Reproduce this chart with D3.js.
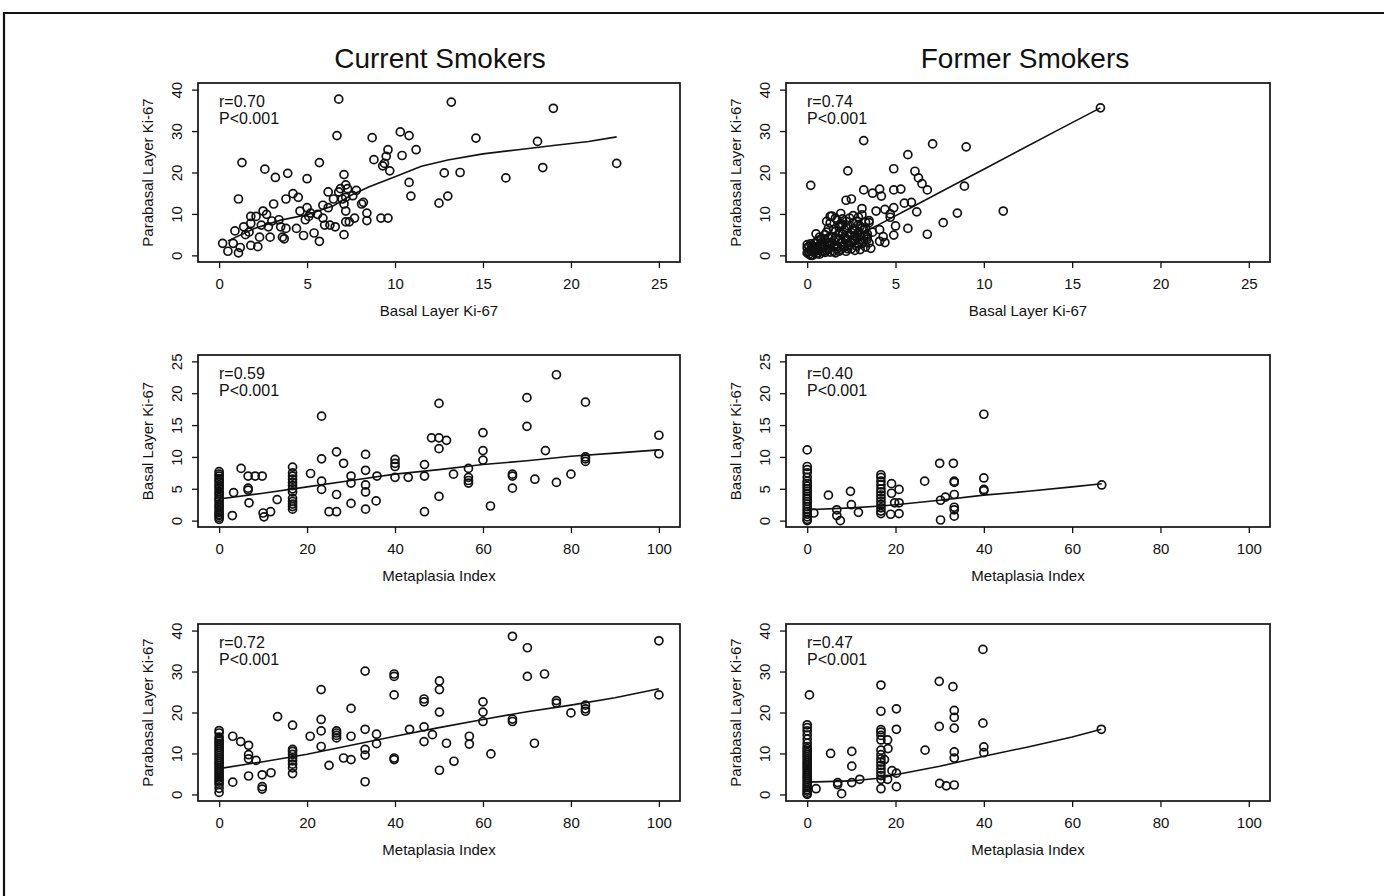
<!DOCTYPE html>
<html><head><meta charset="utf-8">
<script src="https://cdn.jsdelivr.net/npm/d3@7"></script>
<style>html,body{margin:0;padding:0;background:#fff;}svg{display:block;}</style>
</head><body>
<svg id="chart" width="1384" height="896"></svg>
<script>
// ---------- data ----------
const columnTitles = ["Current Smokers", "Former Smokers"];
const xAxisTitles = ["Basal Layer Ki-67", "Metaplasia Index", "Metaplasia Index"];
const yAxisTitles = ["Parabasal Layer Ki-67", "Basal Layer Ki-67", "Parabasal Layer Ki-67"];
const xTickValues = [[0,5,10,15,20,25],[0,20,40,60,80,100],[0,20,40,60,80,100]];
const yTickValues = [[0,10,20,30,40],[0,5,10,15,20,25],[0,10,20,30,40]];
const rLabels = [["r=0.70","r=0.74"],["r=0.59","r=0.40"],["r=0.72","r=0.47"]];
const pLabel = "P<0.001";

// Current smokers: basal (x) vs parabasal (y)
const curBasalPara = [[0.2,2.9],[0.5,1.0],[0.8,2.9],[0.9,5.9],[1.1,13.6],[1.2,1.9],[1.1,0.6],[1.3,22.4],[1.4,6.9],[1.5,5.0],
 [1.7,5.6],[1.8,9.4],[1.8,7.7],[1.8,2.4],[2.1,9.4],[2.2,2.1],[2.3,4.4],[2.4,7.3],[2.5,10.7],[2.6,20.8],
 [2.7,9.9],[2.8,6.9],[2.9,4.4],[3.0,8.3],[3.1,12.4],[3.2,18.8],[3.4,8.6],[3.5,6.9],[3.6,4.4],[3.7,4.0],
 [3.8,6.5],[3.8,13.6],[3.9,19.8],[4.2,14.9],[4.5,14.0],[4.4,6.5],[4.6,10.7],[4.8,4.8],[4.9,8.6],[5.0,18.5],
 [5.0,11.5],[5.1,9.4],[5.2,10.2],[5.4,5.4],[5.6,9.9],[5.7,3.4],[5.7,22.4],[5.9,9.0],[5.9,12.1],[6.0,7.3],
 [6.2,15.3],[6.2,11.5],[6.3,7.3],[6.5,13.6],[6.6,6.9],[6.7,28.9],[6.8,37.7],[6.8,15.3],[6.9,16.1],[7.0,13.6],
 [7.1,19.5],[7.2,17.0],[7.1,12.4],[7.2,10.7],[7.2,14.0],[7.2,8.1],[7.1,5.0],[7.3,16.1],[7.4,8.1],[7.6,14.4],
 [7.7,9.0],[7.8,15.7],[8.1,12.4],[8.2,12.8],[8.4,10.2],[8.4,8.4],[8.7,28.4],[8.8,23.1],[9.2,9.0],[9.3,21.6],
 [9.4,22.2],[9.5,23.9],[9.6,25.5],[9.6,9.0],[9.7,20.4],[10.3,29.8],[10.4,24.1],[10.8,28.9],[10.8,17.6],[10.9,14.3],
 [11.2,25.5],[12.5,12.6],[12.8,19.9],[13.0,14.3],[13.2,37.0],[13.7,20.0],[14.6,28.3],[16.3,18.7],[18.1,27.5],[18.4,21.2],
 [19.0,35.5],[22.6,22.2]];
const curBasalParaFit = [[0.5,3.5],[2,6.5],[3.5,8.5],[5,9.8],[6.5,12],[7.5,14.5],[8.5,16.5],[10,19],[11.5,21.5],[13,23],[15,24.5],[17,25.5],[19,26.5],[21,27.5],[22.6,28.6]];

// Former smokers: basal (x) vs parabasal (y)
const forBasalPara = [[16.6,35.6],[3.2,27.7],[7.1,26.9],[9.0,26.2],[5.7,24.3],[2.3,20.4],[4.9,20.9],[6.1,20.3],[6.3,18.7],[6.5,17.3],
 [6.8,15.8],[0.2,16.9],[8.9,16.7],[3.2,15.8],[3.7,15.0],[4.1,16.0],[4.2,14.3],[4.9,15.8],[5.3,16.0],[2.2,13.3],
 [2.5,13.6],[1.9,10.1],[3.1,11.3],[3.9,10.7],[4.4,11.1],[4.9,11.5],[5.5,12.6],[5.9,12.8],[6.2,10.5],[8.5,10.2],
 [7.7,7.9],[11.1,10.7],[5.7,6.5],[6.8,5.1],[4.9,4.9],[5.0,7.1],[3.7,5.6],[4.1,3.4],[4.4,3.1],[3.6,1.7],
 [4.3,4.5],[4.7,9.2],[4.7,10.0],[4.1,6.2],[1.3,9.4],[2.0,7.5],[3.5,7.9],[3.2,6.2],
 [0.1,0.3],[0.2,1.2],[0.3,2.2],[0.4,0.8],[0.5,1.5],[0.5,3.0],[0.6,0.5],[0.7,2.5],[0.8,1.0],[0.8,4.0],
 [0.9,2.0],[1.0,5.0],[1.0,0.7],[1.1,3.2],[1.2,1.5],[1.2,6.5],[1.3,2.5],[1.3,7.8],[1.4,4.5],[1.5,1.0],
 [1.5,3.5],[1.6,5.8],[1.6,0.6],[1.7,2.2],[1.7,8.5],[1.8,4.0],[1.8,6.8],[1.9,1.4],[1.9,3.0],[2.0,5.2],
 [2.0,8.8],[2.1,2.0],[2.1,6.2],[2.2,3.8],[2.2,1.0],[2.3,7.2],[2.3,4.6],[2.4,2.6],[2.4,9.0],[2.5,5.5],
 [2.5,1.6],[2.6,3.4],[2.6,7.8],[2.7,6.0],[2.7,1.2],[2.8,4.2],[2.8,8.2],[2.9,2.8],[2.9,5.6],[3.0,3.8],
 [3.0,7.0],[3.1,6.5],[3.2,4.8],[3.3,2.0],[3.3,8.0],[3.4,5.2],[3.5,3.0],[0.2,2.8],[0.3,0.0],[1.4,9.5],
 [0.6,3.6],[1.0,2.4],[1.2,4.2],[2.6,9.6],[3.5,8.4],[3.1,9.8],[0.0,1.8],[0.0,2.6],[0.1,0.9],[0.4,1.9],
 [0.7,0.3],[0.9,3.4],[1.1,1.2],[1.5,2.1],[1.8,1.0],[2.0,3.1],[2.3,2.3],[2.7,3.6],[3.0,1.4],[3.4,3.9],
 [0.0,0.6],[0.1,2.2],[0.2,0.0],[0.3,1.5],[0.4,2.9],[0.5,0.4],[0.6,1.9],[0.7,4.4],[0.8,2.8],[0.9,0.9],
 [1.0,3.9],[1.1,5.6],[1.2,2.9],[1.3,0.8],[1.4,3.0],[1.5,6.3],[1.6,4.2],[1.7,1.6],[1.8,5.4],[1.9,7.6],
 [2.0,2.2],[2.1,4.4],[2.2,6.7],[2.3,1.6],[2.4,5.0],[2.5,3.0],[2.6,6.4],[2.7,4.8],[2.8,2.2],[2.9,7.4],
 [3.0,5.0],[3.1,2.8],[3.2,3.4],[3.3,6.6],[3.4,4.4],[1.1,8.2],[1.6,9.0],[2.2,8.2],[2.9,9.2],[0.5,5.2]];
const forBasalParaFit = [[0.3,0.5],[1,1.5],[2,3.2],[3,5.2],[4,7.3],[6,11.8],[8,16.3],[10,20.8],[12,25.3],[14,29.8],[16.6,35.6]];

// Current smokers: metaplasia index (x) vs basal (y)
const curMetaBasal = [[0,0.2],[0,0.5],[0,0.8],[0,1.0],[0,1.3],[0,1.6],[0,2.0],[0,2.3],[0,2.6],[0,3.0],[0,3.3],[0,3.6],
 [0,4.0],[0,4.3],[0,4.6],[0,5.0],[0,5.3],[0,5.6],[0,6.0],[0,6.3],[0,6.6],[0,7.0],[0,7.3],[0,7.7],
 [3.0,0.8],[3.3,4.4],[5.0,8.2],[6.6,7.0],[6.6,5.1],[6.6,4.8],[6.8,2.8],[8.2,7.0],[9.8,7.0],[10,1.2],[10.2,0.6],
 [11.7,1.4],[13.2,3.3],[16.7,8.4],[16.7,7.5],[16.7,7.0],[16.7,6.5],[16.7,6.0],[16.7,5.5],[16.7,5.0],[16.7,4.5],
 [16.7,3.5],[16.7,3.0],[16.7,2.6],[16.7,2.2],[16.7,1.8],[20.8,7.4],[23.3,16.4],[23.3,9.7],[23.3,6.2],[23.3,4.9],
 [25,1.4],[26.7,1.4],[26.7,4.1],[26.7,10.8],[28.3,9.0],[30,7.0],[30,5.9],[30,2.7],[33.3,10.4],[33.3,7.9],
 [33.3,5.6],[33.3,4.5],[33.3,1.8],[35.7,3.1],[35.9,7.0],[40,9.6],[40,9.0],[40,8.5],[40,6.8],[43,6.8],
 [46.7,8.8],[46.7,7.0],[46.7,1.4],[48.3,13.0],[50,13.0],[51.7,12.6],[50,18.4],[50,11.3],[50,3.8],[53.3,7.3],
 [56.7,8.2],[56.7,6.8],[56.7,6.3],[56.7,5.9],[60,13.8],[60,11.0],[60,9.5],[61.7,2.3],[66.7,7.3],[66.7,7.0],
 [66.7,5.1],[70,19.3],[70,14.8],[71.8,6.5],[74.2,11.0],[76.7,22.9],[76.7,6.0],[80,7.3],[83.3,18.6],[83.3,10.0],
 [83.3,9.7],[83.3,9.3],[100,13.4],[100,10.5]];
const curMetaBasalFit = [[0,3.4],[10,4.3],[20,5.3],[30,6.3],[40,7.3],[50,8.0],[60,8.8],[70,9.4],[80,10.1],[90,10.6],[100,11.1]];

// Former smokers: metaplasia index (x) vs basal (y)
const forMetaBasal = [[0,11.1],[0,8.5],[0,8.0],[0,7.5],[0,6.8],[0,6.2],[0,5.8],[0,5.4],[0,5.0],[0,4.6],[0,4.2],[0,3.8],
 [0,3.4],[0,3.0],[0,2.6],[0,2.2],[0,1.8],[0,1.4],[0,1.0],[0,0.6],[0,0.2],[0,0.0],
 [1.5,1.2],[4.8,4.0],[6.7,1.7],[6.7,0.8],[7.5,0.0],[9.8,4.6],[10,2.5],[11.6,1.3],
 [16.7,7.2],[16.7,6.8],[16.7,6.2],[16.7,5.6],[16.7,5.0],[16.7,4.5],[16.7,4.0],[16.7,3.5],[16.7,3.0],[16.7,2.5],
 [16.7,2.0],[16.7,1.5],[16.7,1.1],[19.1,5.8],[19.1,4.3],[18.9,1.0],[19.8,2.8],[20.8,2.8],[20.8,4.9],[20.8,1.1],
 [26.6,6.2],[30,9.0],[30.2,3.2],[30.2,0.1],[31.3,3.7],[33.1,9.0],[33.3,6.2],[33.3,6.0],[33.3,4.1],[33.3,2.1],
 [33.3,1.7],[33.3,0.7],[40,16.7],[40,6.7],[40,4.9],[40,4.7],[66.7,5.6]];
const forMetaBasalFit = [[0,1.7],[10,2.0],[16.7,2.3],[20,2.5],[30,3.2],[40,4.0],[50,4.6],[60,5.3],[66.7,5.8]];

// Current smokers: metaplasia index (x) vs parabasal (y)
const curMetaPara = [[0,0.5],[0,1.5],[0,2.5],[0,3.0],[0,3.5],[0,4.0],[0,4.5],[0,5.0],[0,5.5],[0,6.0],[0,6.5],[0,7.0],
 [0,7.5],[0,8.0],[0,8.5],[0,9.0],[0,9.5],[0,10.0],[0,10.5],[0,11.0],[0,11.5],[0,12.0],[0,12.5],[0,13.0],
 [0,13.5],[0,14.0],[0,15.0],[0,15.6],
 [3.1,3.0],[3.1,14.2],[4.9,12.9],[6.7,12.0],[6.7,9.7],[6.7,8.7],[6.7,4.5],[8.4,8.3],[9.8,4.8],[9.8,1.9],
 [9.8,1.3],[11.8,5.3],[13.3,19.0],[16.7,16.9],[16.7,11.0],[16.7,10.5],[16.7,9.8],[16.7,8.9],[16.7,8.2],[16.7,7.4],
 [16.7,6.5],[16.7,5.1],[20.7,14.2],[23.2,25.6],[23.2,18.3],[23.2,15.5],[23.2,11.7],[25,7.1],[26.7,15.5],[26.7,15.0],
 [26.7,14.4],[26.7,13.8],[28.3,8.9],[30,21.0],[30,14.2],[30,8.5],[33.2,30.1],[33.2,15.9],[33.2,11.0],[33.2,9.6],
 [33.2,3.1],[35.8,14.7],[35.8,12.4],[39.8,29.4],[39.8,28.8],[39.8,24.3],[39.8,8.9],[39.8,8.5],[43.3,15.9],[46.6,23.3],
 [46.6,22.6],[46.6,16.5],[46.6,12.9],[48.5,14.6],[50.1,27.7],[50.1,25.6],[50.1,20.1],[50.1,5.9],[51.7,12.5],[53.4,8.1],
 [56.9,14.2],[56.9,12.3],[60,22.6],[60,20.1],[60,17.8],[61.8,9.9],[66.7,38.6],[66.7,18.4],[66.7,17.8],[70.1,35.8],
 [70.1,28.8],[71.7,12.5],[74,29.4],[76.7,22.9],[76.7,22.3],[80,19.9],[83.3,21.8],[83.3,20.9],[83.3,20.3],[100,37.5],
 [100,24.3]];
const curMetaParaFit = [[0,6.3],[10,8.0],[20,9.8],[30,12.0],[40,14.2],[50,16.3],[60,18.3],[70,20.2],[80,21.8],[90,23.6],[100,25.8]];

// Former smokers: metaplasia index (x) vs parabasal (y)
const forMetaPara = [[0,0.0],[0,0.3],[0,0.8],[0,1.2],[0,1.7],[0,2.2],[0,2.7],[0,3.2],[0,3.7],[0,4.2],[0,4.7],[0,5.2],
 [0,5.7],[0,6.2],[0,6.7],[0,7.2],[0,7.7],[0,8.2],[0,8.7],[0,9.2],[0,9.7],[0,10.2],[0,10.7],[0,11.2],
 [0,11.7],[0,12.5],[0,13.5],[0,14.5],[0,15.5],[0,16.3],[0,17.0],[0.5,24.3],
 [2.0,1.4],[5.3,10.0],[6.9,2.9],[6.9,2.4],[7.8,0.2],[10.1,10.5],[10.1,6.9],[10.1,2.9],[11.9,3.7],
 [16.7,26.7],[16.7,20.3],[16.7,15.8],[16.7,15.2],[16.7,14.4],[16.7,13.3],[16.7,10.8],[16.7,9.7],[16.7,8.7],[16.7,7.9],
 [16.7,7.1],[16.7,6.2],[16.7,5.4],[16.7,4.6],[16.7,3.7],[16.7,1.4],[17.5,8.5],[18.2,13.3],[18.3,11.2],[18.2,3.7],
 [19.2,5.8],[20.2,20.9],[20.2,15.9],[20.2,5.2],[20.2,1.9],[26.7,10.8],[29.9,27.6],[29.9,16.6],[30.0,2.7],[31.5,2.1],
 [33.0,26.3],[33.3,20.5],[33.3,18.8],[33.3,16.2],[33.3,10.4],[33.3,8.9],[33.3,2.3],[39.8,35.4],[39.8,17.4],[40,11.6],
 [40,10.2],[66.6,15.9]];
const forMetaParaFit = [[0,3.0],[10,3.3],[16.7,4.0],[20,4.8],[30,6.9],[40,9.3],[50,11.6],[60,14.0],[66.6,15.9]];

// ---------- layout ----------
const FONT = "'Liberation Sans', Arial, Helvetica, sans-serif";
const colBoxes = [[198, 680], [786, 1270]];
const rowBoxes = [[83, 262], [355, 527], [624, 801]];
const xPad = 0.048, yPad = 0.04;
const titleX = [440, 1025], titleY = 68;

const panelData = [
  [curBasalPara, forBasalPara],
  [curMetaBasal, forMetaBasal],
  [curMetaPara, forMetaPara]
];
const panelFits = [
  [curBasalParaFit, forBasalParaFit],
  [curMetaBasalFit, forMetaBasalFit],
  [curMetaParaFit, forMetaParaFit]
];

const svg = d3.select("#chart");
svg.append("rect").attr("width",1384).attr("height",896).attr("fill","#fff");

// outer frame
svg.append("path").attr("d","M4,896 V13 H1384").attr("fill","none").attr("stroke","#111").attr("stroke-width",2.2);

columnTitles.forEach((t,i)=>{
  svg.append("text").attr("x",titleX[i]).attr("y",titleY).attr("text-anchor","middle")
    .attr("font-family",FONT).attr("font-size",28).attr("fill","#111").text(t);
});

for (let r=0; r<3; r++) {
  for (let c=0; c<2; c++) {
    const [bx0,bx1] = colBoxes[c];
    const [by0,by1] = rowBoxes[r];
    const xt = xTickValues[r], yt = yTickValues[r];
    const xr = xt[xt.length-1]-xt[0], yr = yt[yt.length-1]-yt[0];
    const x = d3.scaleLinear().domain([xt[0]-xPad*xr, xt[xt.length-1]+xPad*xr]).range([bx0,bx1]);
    const y = d3.scaleLinear().domain([yt[0]-yPad*yr, yt[yt.length-1]+yPad*yr]).range([by1,by0]);
    const g = svg.append("g");

    // box
    g.append("rect").attr("x",bx0).attr("y",by0).attr("width",bx1-bx0).attr("height",by1-by0)
      .attr("fill","none").attr("stroke","#111").attr("stroke-width",1.7);

    // x axis
    const xa = g.append("g").attr("transform",`translate(0,${by1})`)
      .call(d3.axisBottom(x).tickValues(xt).tickSize(6).tickPadding(10).tickFormat(d3.format("d")));
    xa.select(".domain").remove();
    xa.selectAll("line").attr("stroke","#111").attr("stroke-width",1.3);
    xa.selectAll("text").attr("font-family",FONT).attr("font-size",15).attr("fill","#111");

    // y axis
    const ya = g.append("g").attr("transform",`translate(${bx0},0)`)
      .call(d3.axisLeft(y).tickValues(yt).tickSize(6).tickFormat(d3.format("d")));
    ya.select(".domain").remove();
    ya.selectAll("line").attr("stroke","#111").attr("stroke-width",1.3);
    ya.selectAll("text").attr("font-family",FONT).attr("font-size",15).attr("fill","#111")
      .attr("x",null).attr("dy",null).attr("text-anchor","middle")
      .attr("transform","translate(-16,0) rotate(-90)")
      .attr("dominant-baseline","auto");

    // axis titles
    g.append("text").attr("x",(bx0+bx1)/2).attr("y",by1+54).attr("text-anchor","middle")
      .attr("font-family",FONT).attr("font-size",15).attr("fill","#111").text(xAxisTitles[r]);
    g.append("text").attr("transform",`translate(${bx0-45},${(by0+by1)/2}) rotate(-90)`)
      .attr("text-anchor","middle").attr("font-family",FONT).attr("font-size",15).attr("fill","#111")
      .text(yAxisTitles[r]);

    // annotation
    g.append("text").attr("x",bx0+21).attr("y",by0+24).attr("font-family",FONT).attr("font-size",16)
      .attr("fill","#111").text(rLabels[r][c]);
    g.append("text").attr("x",bx0+21).attr("y",by0+41).attr("font-family",FONT).attr("font-size",16)
      .attr("fill","#111").text(pLabel);

    // points
    g.append("g").selectAll("circle").data(panelData[r][c]).join("circle")
      .attr("cx",d=>x(d[0])).attr("cy",d=>y(d[1])).attr("r",4)
      .attr("fill","none").attr("stroke","#111").attr("stroke-width",1.7);

    // smooth line
    g.append("path").datum(panelFits[r][c])
      .attr("d", d3.line().x(d=>x(d[0])).y(d=>y(d[1])))
      .attr("fill","none").attr("stroke","#111").attr("stroke-width",1.6);
  }
}
</script>
</body></html>
